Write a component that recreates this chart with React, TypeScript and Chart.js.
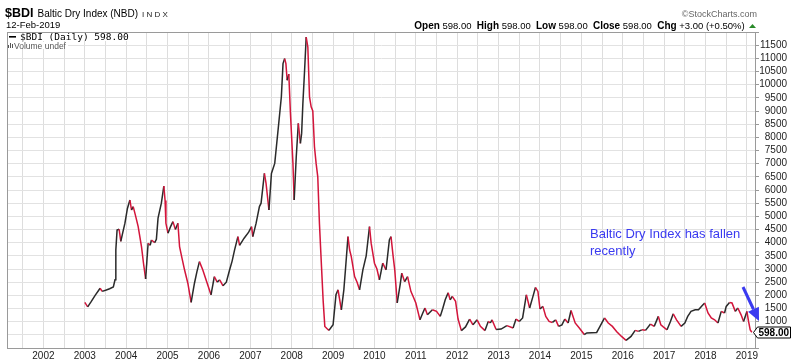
import React, { useEffect, useRef } from "react";
import { Chart, registerables } from "chart.js";

Chart.register(...registerables);

// Decimal-year dates and BDI closes
const dates: number[] = [
  2003.0, 2003.07, 2003.15, 2003.25, 2003.37, 2003.42, 2003.52, 2003.6, 2003.69, 2003.73,
  2003.75, 2003.78, 2003.83, 2003.87, 2003.92, 2003.97, 2004.03, 2004.09, 2004.13, 2004.17,
  2004.23, 2004.29, 2004.37, 2004.42, 2004.47, 2004.53, 2004.58, 2004.61, 2004.69, 2004.73,
  2004.77, 2004.85, 2004.91, 2004.94, 2004.96, 2005.01, 2005.07, 2005.13, 2005.19, 2005.25,
  2005.29, 2005.35, 2005.41, 2005.49, 2005.57, 2005.61, 2005.65, 2005.71, 2005.77, 2005.85,
  2005.95, 2006.05, 2006.13, 2006.2, 2006.26, 2006.34, 2006.42, 2006.5, 2006.56, 2006.62,
  2006.7, 2006.74, 2006.85, 2006.96, 2007.03, 2007.06, 2007.14, 2007.22, 2007.26, 2007.34,
  2007.38, 2007.45, 2007.51, 2007.59, 2007.67, 2007.75, 2007.79, 2007.83, 2007.86, 2007.89,
  2007.93, 2007.97, 2008.03, 2008.06, 2008.11, 2008.16, 2008.21, 2008.24, 2008.27, 2008.31,
  2008.35, 2008.39, 2008.43, 2008.47, 2008.51, 2008.55, 2008.59, 2008.63, 2008.67, 2008.72,
  2008.76, 2008.8, 2008.85, 2008.9, 2008.95, 2009.0, 2009.07, 2009.12, 2009.2, 2009.26,
  2009.3, 2009.36, 2009.4, 2009.44, 2009.52, 2009.58, 2009.64, 2009.72, 2009.8, 2009.88,
  2009.92, 2010.0, 2010.06, 2010.12, 2010.2, 2010.28, 2010.36, 2010.4, 2010.45, 2010.49,
  2010.55, 2010.62, 2010.66, 2010.73, 2010.8, 2010.88, 2010.95, 2011.0, 2011.1, 2011.16,
  2011.22, 2011.28, 2011.4, 2011.5, 2011.59, 2011.65, 2011.71, 2011.78, 2011.83, 2011.88,
  2011.96, 2012.02, 2012.1, 2012.2, 2012.3, 2012.38, 2012.48, 2012.56, 2012.67, 2012.75,
  2012.8, 2012.84, 2012.94, 2013.06, 2013.2, 2013.35, 2013.42, 2013.5, 2013.58, 2013.67,
  2013.75, 2013.83, 2013.89, 2013.95, 2014.0, 2014.07, 2014.14, 2014.22, 2014.3, 2014.38,
  2014.45, 2014.53, 2014.6, 2014.68, 2014.75, 2014.85, 2014.95, 2015.07, 2015.13, 2015.25,
  2015.37, 2015.45, 2015.56, 2015.65, 2015.75, 2015.85, 2015.97, 2016.08, 2016.2, 2016.3,
  2016.38, 2016.46, 2016.55, 2016.67, 2016.76, 2016.86, 2016.92, 2016.98, 2017.07, 2017.15,
  2017.22, 2017.3, 2017.41, 2017.5, 2017.57, 2017.65, 2017.75, 2017.83, 2017.9, 2017.98,
  2018.06, 2018.14, 2018.22, 2018.3, 2018.38, 2018.46, 2018.5, 2018.58, 2018.64, 2018.72,
  2018.78, 2018.86, 2018.92, 2019.0, 2019.04, 2019.08, 2019.12,
];

const values: number[] = [
  1730, 1560, 1750, 2000, 2270, 2150, 2200, 2250, 2320, 2590,
  3720, 4480, 4510, 4050, 4400, 4740, 5300, 5620, 5240, 5370,
  5000, 4610, 3850, 3200, 2620, 3980, 3900, 4100, 4000, 4130,
  4930, 5500, 6150, 5600, 4740, 4360, 4600, 4800, 4500, 4740,
  3850, 3400, 2970, 2460, 1730, 2100, 2460, 2900, 3280, 2970,
  2500, 2020, 2710, 2500, 2590, 2360, 2500, 2970, 3300, 3725,
  4230, 3900, 4170, 4400, 4610, 4230, 4740, 5370, 5500, 6630,
  6250, 5240, 6630, 7010, 8270, 9540, 10800, 10990, 10800, 10170,
  10400, 8900, 7010, 5620, 7260, 8530, 7770, 8150, 9290, 10500,
  11810, 11430, 9540, 9160, 9000, 7640, 7010, 6500, 4740, 3090,
  1800, 820, 740, 670, 780, 880, 2020, 2210, 1450, 2210,
  3000, 4230, 3720, 3470, 2710, 2500, 2210, 2970, 3500, 4610,
  3980, 3220, 3000, 2590, 3220, 2970, 4100, 4230, 3500, 2970,
  1710, 2400, 2840, 2520, 2710, 2150, 1900, 1710, 1070, 1300,
  1520, 1260, 1450, 1390, 1200, 1500, 1830, 2100, 1830, 1960,
  1770, 1100, 660, 800, 1100, 880, 1070, 820, 660, 1010,
  950, 1070, 700, 720, 850, 760, 1100, 1010, 1140, 2020,
  1520, 1960, 2300, 2150, 1480, 1580, 1200, 1010, 970, 1070,
  820, 880, 1100, 950, 1425, 950, 760, 510, 570, 580,
  590, 820, 1140, 950, 820, 630, 440, 290, 440, 670,
  630, 690, 670, 910, 820, 1200, 880, 800, 690, 1000,
  1300, 1070, 820, 950, 1200, 1390, 1450, 1450, 1580, 1710,
  1330, 1140, 1070, 950, 1390, 1330, 1580, 1730, 1710, 1390,
  1520, 1260, 1010, 1390, 1010, 690, 598,
];

const yearLabels: number[] = [2002, 2003, 2004, 2005, 2006, 2007, 2008, 2009, 2010, 2011, 2012, 2013, 2014, 2015, 2016, 2017, 2018, 2019];
const quoteLabels: string[] = ["Open", "High", "Low", "Close", "Chg"];
const quoteValues: string[] = ["598.00", "598.00", "598.00", "598.00", "+3.00 (+0.50%)"];
const annotationLines: string[] = ["Baltic Dry Index has fallen", "recently"];
const lastValue = "598.00";

const FONT = 'Arial, "Liberation Sans", sans-serif';
const UP = "#2a2a2a";
const DOWN = "#d3153b";
const BLUE = "#3a3af0";

const overlayPlugin = {
  id: "overlay",
  afterDraw(chart: any) {
    const ctx = chart.ctx as CanvasRenderingContext2D;
    const area = chart.chartArea;
    ctx.save();
    // plot frame
    ctx.strokeStyle = "#9a9a9a";
    ctx.lineWidth = 1;
    ctx.strokeRect(Math.round(area.left) + 0.5, Math.round(area.top) + 0.5, Math.round(area.right - area.left) - 1, Math.round(area.bottom - area.top));

    // header
    ctx.textBaseline = "alphabetic";
    ctx.fillStyle = "#000";
    ctx.font = `bold 12.5px ${FONT}`;
    ctx.fillText("$BDI", 5, 17);
    let x = 5 + ctx.measureText("$BDI").width + 4;
    ctx.font = `10px ${FONT}`;
    ctx.fillText("Baltic Dry Index (NBD)", x, 17);
    x += ctx.measureText("Baltic Dry Index (NBD)").width + 4;
    ctx.font = `8px ${FONT}`;
    ctx.fillStyle = "#222";
    ctx.fillText("I N D X", x, 17);
    ctx.fillStyle = "#000";
    ctx.font = `9.5px ${FONT}`;
    ctx.fillText("12-Feb-2019", 6, 28);

    // top right
    ctx.fillStyle = "#666";
    ctx.font = `9px ${FONT}`;
    ctx.textAlign = "right";
    ctx.fillText("\u00A9StockCharts.com", 757, 17);
    ctx.textAlign = "left";
    const parts: { t: string; b: boolean }[] = [];
    quoteLabels.forEach((l, i) => {
      parts.push({ t: l, b: true });
      parts.push({ t: " " + quoteValues[i] + "  ", b: false });
    });
    const fontFor = (b: boolean) => (b ? `bold 10px ${FONT}` : `9.5px ${FONT}`);
    let total = 0;
    parts.forEach((p) => {
      ctx.font = fontFor(p.b);
      total += ctx.measureText(p.t).width;
    });
    let qx = 750 - total;
    parts.forEach((p) => {
      ctx.font = fontFor(p.b);
      ctx.fillStyle = "#000";
      ctx.fillText(p.t, qx, 29);
      qx += ctx.measureText(p.t).width;
    });
    ctx.fillStyle = "#2a8a2a";
    ctx.beginPath();
    ctx.moveTo(749, 28);
    ctx.lineTo(756, 28);
    ctx.lineTo(752.5, 24);
    ctx.closePath();
    ctx.fill();

    // legend in plot
    ctx.font = `9.5px "DejaVu Sans Mono", monospace`;
    const legTxt = "$BDI (Daily) 598.00";
    const lw = ctx.measureText(legTxt).width;
    ctx.fillStyle = "#fff";
    ctx.fillRect(8, 33, lw + 14, 8);
    ctx.fillStyle = "#000";
    ctx.fillRect(9, 36, 7, 1.6);
    ctx.fillText(legTxt, 20, 40);
    ctx.font = `8.5px ${FONT}`;
    const vw = ctx.measureText("Volume undef").width;
    ctx.fillStyle = "#fff";
    ctx.fillRect(8, 42, vw + 8, 7);
    ctx.fillStyle = "#555";
    ctx.fillRect(8, 45, 1, 3);
    ctx.fillRect(10, 43, 1, 5);
    ctx.fillRect(12, 44, 1, 4);
    ctx.fillText("Volume undef", 14, 48.5);

    // annotation
    ctx.fillStyle = BLUE;
    ctx.font = `13px ${FONT}`;
    ctx.fillText(annotationLines[0], 590, 238);
    ctx.fillText(annotationLines[1], 590, 255);

    // arrow
    const ax0 = 743, ay0 = 287, ax1 = 759, ay1 = 321;
    const ang = Math.atan2(ay1 - ay0, ax1 - ax0);
    const hl = 13, hw = 6;
    const bx = ax1 - hl * Math.cos(ang), by = ay1 - hl * Math.sin(ang);
    ctx.strokeStyle = BLUE;
    ctx.lineWidth = 3;
    ctx.beginPath();
    ctx.moveTo(ax0, ay0);
    ctx.lineTo(bx, by);
    ctx.stroke();
    ctx.fillStyle = BLUE;
    ctx.beginPath();
    ctx.moveTo(ax1, ay1);
    ctx.lineTo(bx + hw * Math.sin(ang), by - hw * Math.cos(ang));
    ctx.lineTo(bx - hw * Math.sin(ang), by + hw * Math.cos(ang));
    ctx.closePath();
    ctx.fill();

    // last price box
    const py = Math.round(chart.scales.y.getPixelForValue(values[values.length - 1])) + 0.5;
    ctx.fillStyle = "#fff";
    ctx.strokeStyle = "#000";
    ctx.lineWidth = 1;
    ctx.beginPath();
    ctx.moveTo(753.5, py);
    ctx.lineTo(757.5, py - 5.5);
    ctx.lineTo(790.5, py - 5.5);
    ctx.lineTo(790.5, py + 5.5);
    ctx.lineTo(757.5, py + 5.5);
    ctx.closePath();
    ctx.fill();
    ctx.stroke();
    ctx.fillStyle = "#000";
    ctx.font = `bold 10px ${FONT}`;
    ctx.textBaseline = "middle";
    ctx.fillText(lastValue, 758.5, py + 0.5);
    ctx.restore();
  },
};

export default function App() {
  const ref = useRef<HTMLCanvasElement | null>(null);
  useEffect(() => {
    if (!ref.current) return;
    const data = dates.map((d, i) => ({ x: d, y: values[i] }));
    const chart = new Chart(ref.current, {
      type: "line",
      data: {
        datasets: [
          {
            data,
            borderWidth: 1.5,
            borderColor: UP,
            pointRadius: 0,
            tension: 0,
            segment: {
              borderColor: (c: any) => (c.p1.parsed.y >= c.p0.parsed.y ? UP : DOWN),
            },
          },
        ],
      },
      options: {
        animation: false,
        responsive: false,
        layout: { padding: { left: 7, top: 32, right: 13, bottom: 0 } },
        plugins: { legend: { display: false }, tooltip: { enabled: false } },
        scales: {
          x: {
            type: "linear",
            min: 2001.12,
            max: 2019.22,
            afterBuildTicks: (s: any) => {
              const t: any[] = [];
              for (let v = 2001.5; v <= 2019.01; v += 0.5) t.push({ value: v });
              s.ticks = t;
            },
            afterFit: (s: any) => {
              s.height = 12;
            },
            grid: { color: "#dddddd", drawTicks: false },
            border: { display: false },
            ticks: {
              autoSkip: false,
              maxRotation: 0,
              padding: 2,
              color: "#222",
              font: { family: FONT, size: 10 },
              callback: (v: any) => (yearLabels.includes(Number(v)) ? String(v) : ""),
            },
          },
          y: {
            position: "right",
            min: 0,
            max: 12000,
            afterBuildTicks: (s: any) => {
              const t: any[] = [];
              for (let v = 0; v <= 12000; v += 500) t.push({ value: v });
              s.ticks = t;
            },
            afterFit: (s: any) => {
              s.width = 31;
            },
            grid: { color: "#e2e2e2", tickLength: 3, tickColor: "#999" },
            border: { display: false },
            ticks: {
              autoSkip: false,
              padding: 1,
              crossAlign: "far",
              color: "#222",
              font: { family: FONT, size: 10 },
              callback: (v: any) => (v >= 1000 && v <= 11500 ? String(v) : ""),
            },
          },
        },
      },
      plugins: [overlayPlugin],
    } as any);
    return () => chart.destroy();
  }, []);
  return (
    <div style={{ position: "fixed", left: 0, top: 0, width: 800, height: 360, background: "#fff" }}>
      <canvas ref={ref} width={800} height={360} style={{ width: 800, height: 360, display: "block" }} />
    </div>
  );
}
